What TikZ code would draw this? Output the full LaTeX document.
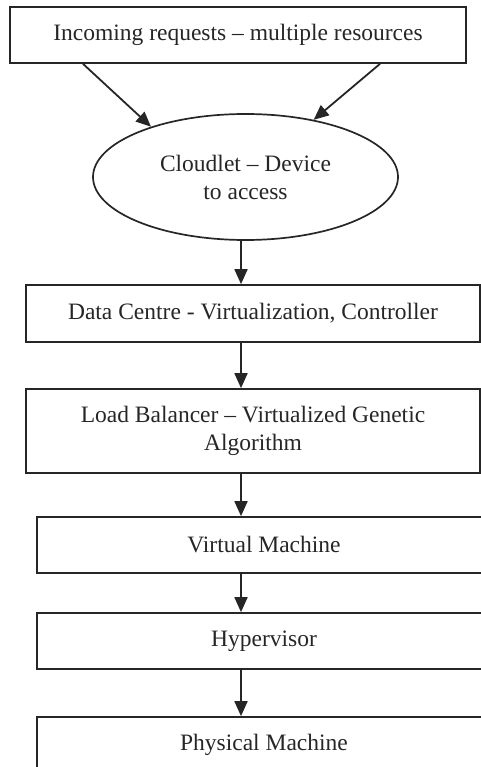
\documentclass[tikz,border=0pt]{standalone}
\usepackage{fontspec}
\setmainfont{Liberation Serif}
\usetikzlibrary{shapes.geometric,arrows.meta}
\begin{document}
\begin{tikzpicture}[x=1pt,y=-1pt,
  every node/.style={font=\fontsize{23.5}{28}\selectfont, text=black!85, align=center, inner sep=0pt},
  box/.style={draw=black!85, line width=1.7pt, rectangle, minimum height=56pt},
  ell/.style={draw=black!85, line width=1.7pt, ellipse, minimum width=305pt, minimum height=126pt},
  arr/.style={draw=black!85, line width=1.8pt, -{Triangle[length=15pt,width=13pt]}}]
\clip (0,0) rectangle (481,767);
\useasboundingbox (0,0) rectangle (481,767);
\node[box, minimum width=456pt] (top) at (238,35) {Incoming requests -- multiple resources};
\node[ell] (cl) at (245.5,177) {Cloudlet -- Device\\to access};
\node[box, minimum width=454pt, minimum height=57pt] (dc) at (253,313.5) {Data Centre - Virtualization, Controller};
\node[box, minimum width=454pt, minimum height=84pt] (lb) at (253,431) {Load Balancer -- Virtualized Genetic\\Algorithm};
\node[box, minimum width=454pt] (vm) at (264,545) {Virtual Machine};
\node[box, minimum width=454pt] (hv) at (264,641) {Hypervisor};
\node[box, minimum width=454pt] (pm) at (264,745) {Physical Machine};
\coordinate (ax) at (241,0);
\coordinate (la) at (83,0);
\coordinate (ra) at (380,0);
\draw[arr] (top.south -| la) -- (cl.152);
\draw[arr] (top.south -| ra) -- (cl.40);
\draw[arr] (cl.south -| ax) -- (dc.north -| ax);
\draw[arr] (dc.south -| ax) -- (lb.north -| ax);
\draw[arr] (lb.south -| ax) -- (vm.north -| ax);
\draw[arr] (vm.south -| ax) -- (hv.north -| ax);
\draw[arr] (hv.south -| ax) -- (pm.north -| ax);
\end{tikzpicture}
\end{document}
